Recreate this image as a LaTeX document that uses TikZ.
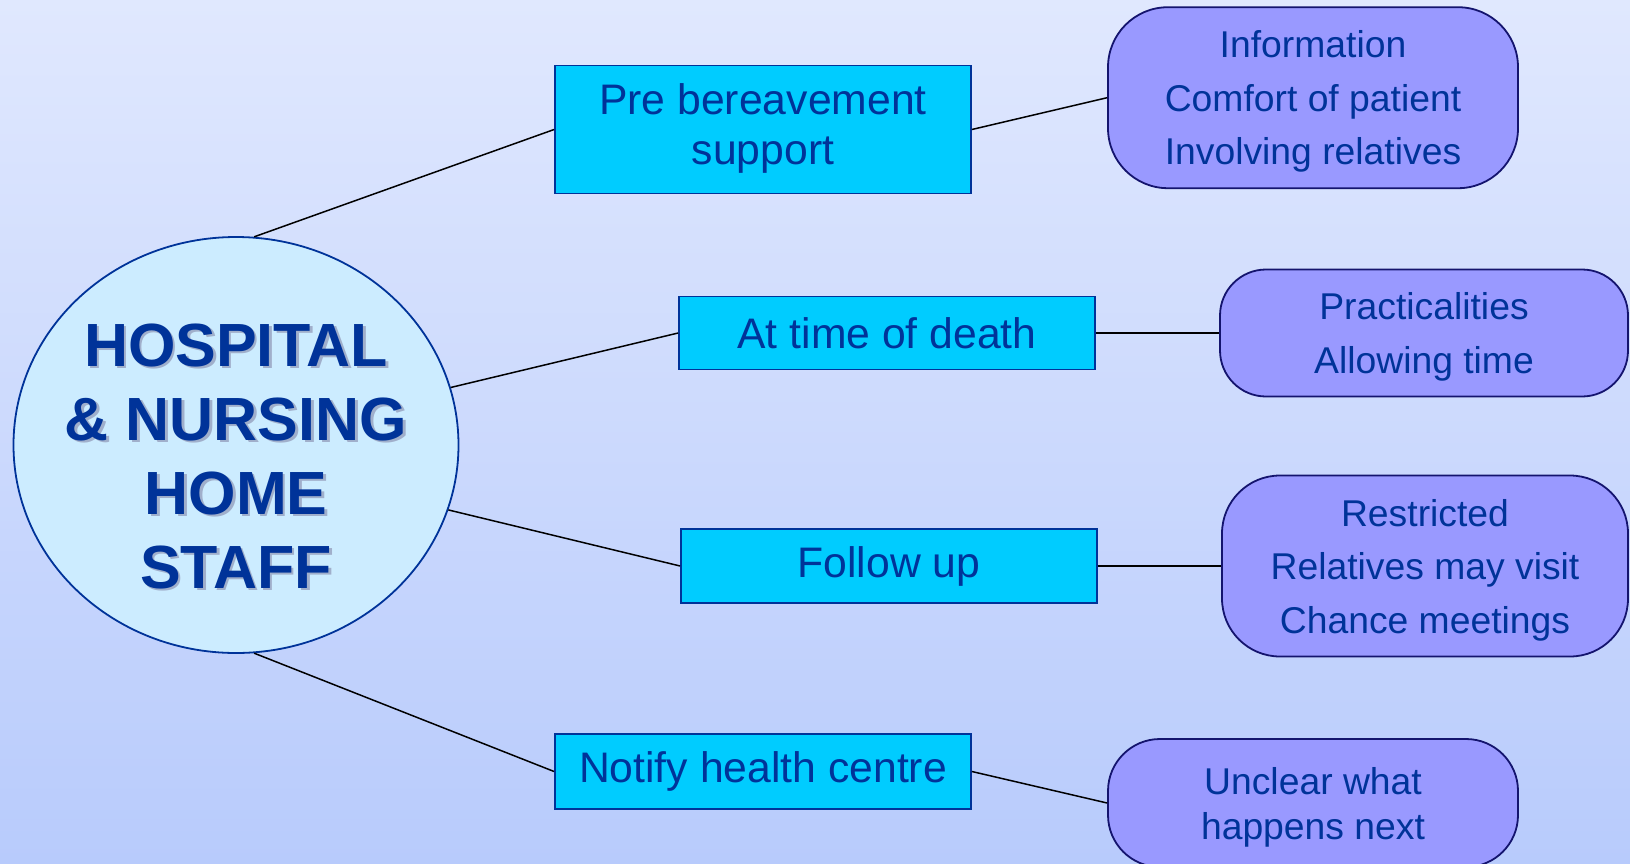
\documentclass[tikz,border=0pt]{standalone}
\usepackage{fontspec}
\setmainfont{Liberation Sans}
\usetikzlibrary{shapes.geometric}
\definecolor{txt}{RGB}{0,51,153}
\definecolor{bgtop}{RGB}{224,232,254}
\definecolor{bgbot}{RGB}{184,203,252}
\definecolor{hubfill}{RGB}{204,236,255}
\definecolor{boxfill}{RGB}{0,204,255}
\definecolor{rfill}{RGB}{153,153,255}
\definecolor{rborder}{RGB}{20,20,110}
\definecolor{shadowc}{RGB}{150,160,190}
\begin{document}
\begin{tikzpicture}[x=1pt,y=-1pt,
  hub/.style={ellipse,draw=txt,line width=1.8pt,fill=hubfill,minimum width=445pt,minimum height=416pt,inner sep=0pt},
  hubtext/.style={align=center,inner sep=0pt,font=\bfseries\fontsize{61}{74}\selectfont,text=txt},
  box/.style={rectangle,draw=txt,line width=1.8pt,fill=boxfill,minimum width=416pt,inner sep=0pt,align=center,text=txt,font=\fontsize{42.7}{50.4}\selectfont},
  rbox/.style={rectangle,draw=rborder,line width=1.8pt,fill=rfill,inner sep=0pt},
  rtext/.style={align=center,inner sep=0pt,text=txt,font=\fontsize{37.3}{53.5}\selectfont,yshift=-4pt},
  conn/.style={draw=black,line width=1.5pt}]
\useasboundingbox (0,0) rectangle (1630,863);
\shade[top color=bgtop,bottom color=bgbot] (0,0) rectangle (1630,863);

% hub
\node[hub] (hub) at (236,445) {};
\node[hubtext,text=shadowc,opacity=0.8] (hubs) at (238.5,458.5) {HOSPITAL\\\& NURSING\\HOME\\STAFF};
\node[hubtext] (hubt) at (236,456) {HOSPITAL\\\& NURSING\\HOME\\STAFF};

% middle boxes
\node[box,minimum height=128pt] (pre) at (763,129.5) {\raisebox{-2pt}{\begin{tabular}{@{}c@{}}Pre bereavement\\support\end{tabular}}};
\node[box,minimum height=73pt] (death) at (887,333) {At time of death};
\node[box,minimum height=74pt] (follow) at (889,566) {Follow up};
\node[box,minimum height=75pt] (notify) at (763,771.5) {Notify health centre};

% right rounded boxes
\node[rbox,rounded corners=60pt,minimum width=410pt,minimum height=181pt,
  label={[rtext]center:Information\\Comfort of patient\\Involving relatives}] (info) at (1313,97.7) {};
\node[rbox,rounded corners=46pt,minimum width=408pt,minimum height=127pt,
  label={[rtext]center:Practicalities\\Allowing time}] (pract) at (1424,333) {};
\node[rbox,rounded corners=58pt,minimum width=406pt,minimum height=181pt,
  label={[rtext]center:Restricted\\Relatives may visit\\Chance meetings}] (restr) at (1425,566) {};
\node[rbox,rounded corners=52pt,minimum width=410pt,minimum height=128pt,
  label={[rtext,font=\fontsize{37.3}{44.7}\selectfont]center:Unclear what\\happens next}] (unclear) at (1313,803) {};

% connectors
\draw[conn] (hub.85.5) -- (pre.west);
\draw[conn] (hub.15) -- (death.west);
\draw[conn] (hub.-17.5) -- (follow.west);
\draw[conn] (hub.-85.5) -- (notify.west);
\draw[conn] (pre.east) -- (info.west);
\draw[conn] (death.east) -- (pract.west);
\draw[conn] (follow.east) -- (restr.west);
\draw[conn] (notify.east) -- (unclear.west);
\end{tikzpicture}
\end{document}
